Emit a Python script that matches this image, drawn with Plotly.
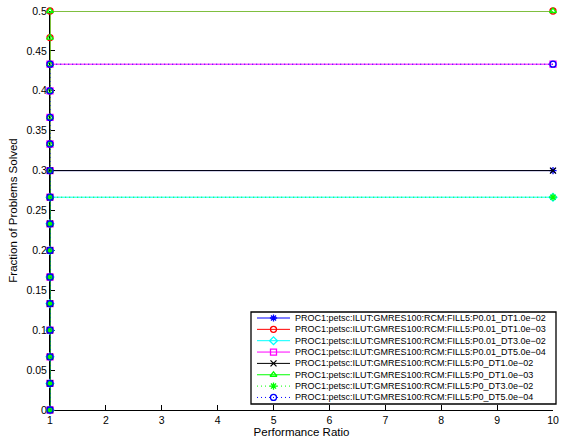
import plotly.graph_objects as go

# Performance profile: 30 problems, every solver reaches its final fraction at ratio 1
n_problems = 30
solver_names = [
    "PROC1:petsc:ILUT:GMRES100:RCM:FILL5:P0.01_DT1.0e\u221202",
    "PROC1:petsc:ILUT:GMRES100:RCM:FILL5:P0.01_DT1.0e\u221203",
    "PROC1:petsc:ILUT:GMRES100:RCM:FILL5:P0.01_DT3.0e\u221202",
    "PROC1:petsc:ILUT:GMRES100:RCM:FILL5:P0.01_DT5.0e\u221204",
    "PROC1:petsc:ILUT:GMRES100:RCM:FILL5:P0_DT1.0e\u221202",
    "PROC1:petsc:ILUT:GMRES100:RCM:FILL5:P0_DT1.0e\u221203",
    "PROC1:petsc:ILUT:GMRES100:RCM:FILL5:P0_DT3.0e\u221202",
    "PROC1:petsc:ILUT:GMRES100:RCM:FILL5:P0_DT5.0e\u221204",
]
solved_counts = [9, 15, 8, 13, 9, 15, 8, 13]
line_colors = ["#0000ff", "#ff0000", "#00ffff", "#ff00ff", "#000000", "#00ff00", "#00ff00", "#0000ff"]
line_dashes = ["solid", "solid", "solid", "solid", "solid", "solid", "1px,3px", "1px,3px"]
marker_symbols = ["asterisk-open", "circle-open", "diamond-open", "square-open",
                  "x-thin-open", "triangle-up-open", "asterisk-open", "circle-open"]
ratio_ticks = list(range(1, 11))
frac_ticks = [i * 0.05 for i in range(11)]
frac_labels = ["0", "0.05", "0.1", "0.15", "0.2", "0.25", "0.3", "0.35", "0.4", "0.45", "0.5"]

W, H = 561, 442
ML, MR, MT, MB = 50, 8, 11, 32
FONT = "Liberation Sans, Arial, Helvetica"

fig = go.Figure()
for name, cnt, col, dash, sym in zip(solver_names, solved_counts, line_colors, line_dashes, marker_symbols):
    xs = [ratio_ticks[0]] * (cnt + 1) + [ratio_ticks[-1]]
    ys = [k / n_problems for k in range(cnt + 1)] + [cnt / n_problems]
    fig.add_trace(go.Scatter(
        x=xs, y=ys, name=name, mode="lines+markers", cliponaxis=False, showlegend=False,
        line=dict(color=col, width=1, dash=dash),
        marker=dict(symbol=sym, size=6, color=col, line=dict(color=col, width=1.3)),
    ))

# Boxed legend drawn on a hidden overlay axis measured in screen pixels
box_left, box_right, box_top, box_bottom = 251, 556, 312, 404
row0, row_step = 318, 11.35
samp_x0, samp_x1, text_x = 257, 290, 293
for i, (name, col, dash, sym) in enumerate(zip(solver_names, line_colors, line_dashes, marker_symbols)):
    ry = row0 + i * row_step
    fig.add_trace(go.Scatter(
        x=[samp_x0, samp_x1], y=[ry, ry], mode="lines", xaxis="x2", yaxis="y2",
        line=dict(color=col, width=1, dash=dash), showlegend=False, hoverinfo="skip", cliponaxis=False,
    ))
    fig.add_trace(go.Scatter(
        x=[(samp_x0 + samp_x1) / 2], y=[ry], mode="markers", xaxis="x2", yaxis="y2",
        marker=dict(symbol=sym, size=6, color=col, line=dict(color=col, width=1.3)),
        showlegend=False, hoverinfo="skip", cliponaxis=False,
    ))
    fig.add_annotation(x=text_x, y=ry, xref="x2", yref="y2", text=name, showarrow=False,
                       xanchor="left", yanchor="middle",
                       font=dict(family=FONT, size=9, color="black"))


def px_x(p):
    return (p - ML) / (W - ML - MR)


def px_y(p):
    return (H - MB - p) / (H - MT - MB)


fig.add_shape(type="rect", xref="paper", yref="paper",
              x0=px_x(box_left), x1=px_x(box_right), y0=px_y(box_bottom), y1=px_y(box_top),
              line=dict(color="black", width=1.3), fillcolor="rgba(0,0,0,0)", layer="above")

axis_common = dict(
    showline=True, linecolor="black", linewidth=1, mirror=False,
    ticks="inside", ticklen=5, tickcolor="black", layer="below traces",
    showgrid=False, zeroline=False, automargin=False,
    tickfont=dict(family=FONT, size=10.5, color="black"),
)
fig.update_layout(
    width=W, height=H,
    margin=dict(l=ML, r=MR, t=MT, b=MB),
    paper_bgcolor="white", plot_bgcolor="white",
    showlegend=False,
    xaxis=dict(range=[ratio_ticks[0], ratio_ticks[-1]], tickvals=ratio_ticks,
               title=dict(text="Performance Ratio", standoff=2,
                          font=dict(family=FONT, size=11.5, color="black")),
               **axis_common),
    yaxis=dict(range=[0, 0.5], tickvals=frac_ticks, ticktext=frac_labels,
               title=dict(text="Fraction of Problems Solved", standoff=6,
                          font=dict(family=FONT, size=11.5, color="black")),
               **axis_common),
    xaxis2=dict(overlaying="x", range=[ML, W - MR], visible=False, fixedrange=True),
    yaxis2=dict(overlaying="y", range=[H - MB, MT], visible=False, fixedrange=True),
)

fig.write_html("out.html")
